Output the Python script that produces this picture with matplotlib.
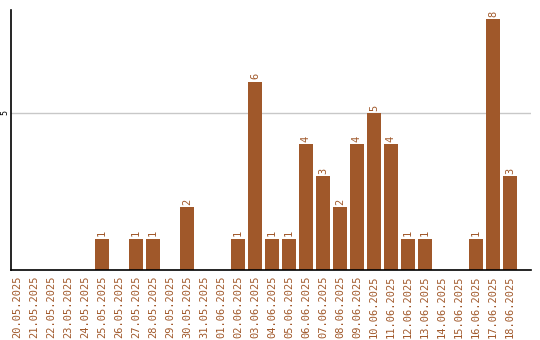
import matplotlib
matplotlib.use("Agg")
import matplotlib.pyplot as plt
import numpy as np

dates = [
    "20.05.2025", "21.05.2025", "22.05.2025", "23.05.2025", "24.05.2025",
    "25.05.2025", "26.05.2025", "27.05.2025", "28.05.2025", "29.05.2025",
    "30.05.2025", "31.05.2025", "01.06.2025", "02.06.2025", "03.06.2025",
    "04.06.2025", "05.06.2025", "06.06.2025", "07.06.2025", "08.06.2025",
    "09.06.2025", "10.06.2025", "11.06.2025", "12.06.2025", "13.06.2025",
    "14.06.2025", "15.06.2025", "16.06.2025", "17.06.2025", "18.06.2025",
]
counts = [0, 0, 0, 0, 0, 1, 0, 1, 1, 0,
          2, 0, 0, 1, 6, 1, 1, 4, 3, 2,
          4, 5, 4, 1, 1, 0, 0, 1, 8, 3]

BROWN = "#A0582A"

fig = plt.figure(figsize=(5.4, 3.4), dpi=100)
ax = fig.add_axes([11 / 540, 1 - 270 / 340, 520 / 540, 260 / 340])

x = np.arange(len(dates))
ax.bar(x, counts, width=0.82, color=BROWN, zorder=2)

for xi, v in zip(x, counts):
    if v > 0:
        ax.text(xi, v + 0.07, str(v), rotation=90, ha="center", va="bottom",
                color=BROWN, fontsize=7.5, family="DejaVu Sans Mono")

ax.set_xlim(-0.35, 30.24)
ax.set_ylim(0, 8.28)
ax.set_yticks([5])
ax.set_yticklabels(["5"], rotation=90, va="center", fontsize=6, family="DejaVu Sans Mono")
ax.yaxis.grid(True, color="#c8c8c8", linewidth=1, zorder=0)
ax.set_xticks(x)
ax.set_xticklabels(dates, rotation=90, color=BROWN, fontsize=7.5, family="DejaVu Sans Mono")
ax.tick_params(axis="both", length=0)
ax.tick_params(axis="x", pad=4)
ax.tick_params(axis="y", pad=1)
for side in ["top", "right"]:
    ax.spines[side].set_visible(False)
ax.spines["left"].set_linewidth(1.2)
ax.spines["bottom"].set_linewidth(1.2)

fig.savefig("out.png", dpi=100)
